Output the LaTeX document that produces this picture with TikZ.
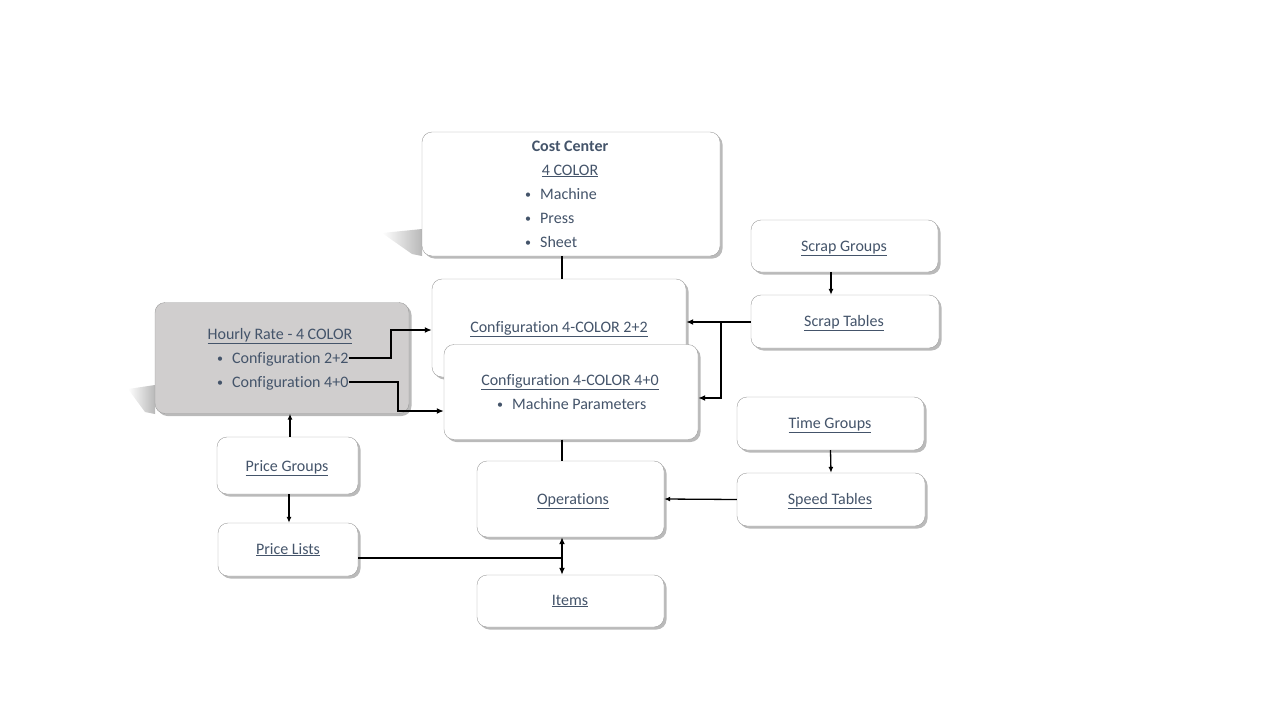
\documentclass[tikz,border=0pt]{standalone}
\usepackage{fontspec}
\setmainfont[Ligatures=NoCommon]{Carlito}
\usetikzlibrary{arrows.meta,shadows}

\definecolor{txtcol}{HTML}{44546A}
\definecolor{edgecol}{HTML}{9C9C9C}
\definecolor{ratefill}{HTML}{D0CECE}

\newcommand{\itembul}{\makebox[15pt][l]{\raisebox{0.5pt}{\fontsize{12}{14}\selectfont\textbullet}}}

\tikzset{
    box/.style={draw=edgecol, fill=white, rounded corners=10pt, inner sep=0pt,
        drop shadow={shadow xshift=2.5pt, shadow yshift=-2.5pt, opacity=0.45, fill=black!60}},
    lbl/.style={text=txtcol, inner sep=0pt, text height=10pt, text depth=0pt,
        font=\fontsize{16}{19}\selectfont},
    link/.style={line width=2.2pt, -{Latex[length=7pt,width=6pt]}},
    thinlink/.style={line width=1.3pt, -{Latex[length=6pt,width=5pt]}},
    joint/.style={line width=2.2pt}
}

\begin{document}
\begin{tikzpicture}[x=1pt, y=-1pt]
    \useasboundingbox (0,0) rectangle (1280,720);

    % Shadows cast to the left
    \shade[left color=white, right color=black!28] (382,233) -- (422,229) -- (422,256) -- (412,254) -- cycle;
    \shade[left color=white, right color=black!28] (128,389) -- (155,385) -- (155,414) -- (145,412) -- cycle;

    % Cost center
    \node[box, minimum width=298pt, minimum height=124pt] (cc) at (571,194) {};
    \node[lbl, font=\fontsize{16}{19}\selectfont\bfseries] (cctitle) at (570,146) {Cost Center};
    \node[lbl] (cccolor) at (570,170) {\underline{4 COLOR}};
    \node[lbl, anchor=west] (ccmach) at (525,194) {\itembul Machine};
    \node[lbl, anchor=west] (ccpress) at (525,218) {\itembul Press};
    \node[lbl, anchor=west] (ccsheet) at (525,242) {\itembul Sheet};

    % Configurations
    \node[box, minimum width=254pt, minimum height=98pt] (cfgA) at (559,328) {};
    \node[lbl] (cfgAtext) at (559,327) {\underline{Configuration 4-COLOR 2+2}};
    \node[box, minimum width=254pt, minimum height=95pt] (cfgB) at (571,392) {};
    \node[lbl] (cfgBtext) at (570,380) {\underline{Configuration 4-COLOR 4+0}};
    \node[lbl, anchor=west] (cfgBparam) at (497,404) {\itembul Machine Parameters};

    % Hourly rate
    \node[box, fill=ratefill, minimum width=254pt, minimum height=111pt] (rate) at (282,358) {};
    \node[lbl] (ratetitle) at (280,334) {\underline{Hourly Rate - 4 COLOR}};
    \node[lbl, anchor=west] (rate22) at (217,358) {\itembul Configuration 2+2};
    \node[lbl, anchor=west] (rate40) at (217,382) {\itembul Configuration 4+0};

    % Price
    \node[box, minimum width=141pt, minimum height=57pt] (pgroups) at (287.5,465.5) {};
    \node[lbl] (pgroupstext) at (287,466) {\underline{Price Groups}};
    \node[box, minimum width=140pt, minimum height=53pt] (plists) at (288,549.5) {};
    \node[lbl] (pliststext) at (288,549) {\underline{Price Lists}};

    % Scrap and speed
    \node[box, minimum width=187pt, minimum height=52pt] (sgroups) at (844.5,246) {};
    \node[lbl] (sgroupstext) at (844,246) {\underline{Scrap Groups}};
    \node[box, minimum width=188pt, minimum height=53pt] (stables) at (845,321.5) {};
    \node[lbl] (stablestext) at (844,321) {\underline{Scrap Tables}};
    \node[box, minimum width=187pt, minimum height=53pt] (tgroups) at (830.5,423.5) {};
    \node[lbl] (tgroupstext) at (830,423) {\underline{Time Groups}};
    \node[box, minimum width=188pt, minimum height=53pt] (speed) at (831,499.5) {};
    \node[lbl] (speedtext) at (830,499) {\underline{Speed Tables}};

    % Operations and items
    \node[box, minimum width=187pt, minimum height=76pt] (ops) at (570.5,499) {};
    \node[lbl] (opstext) at (573,499) {\underline{Operations}};
    \node[box, minimum width=187pt, minimum height=52pt] (items) at (570.5,601) {};
    \node[lbl] (itemstext) at (570,600) {\underline{Items}};

    % Connectors
    \coordinate (trunk) at (562,0);
    \draw[joint] (cc.south -| trunk) -- (cfgA.north -| trunk);
    \draw[joint] (cfgB.south -| trunk) -- (ops.north -| trunk);
    \draw[link] (rate22.east) -| (391,330) -- (cfgA.west |- 0,330);
    \draw[link] (rate40.east) -| (398,411) -- (cfgB.west |- 0,411);

    \coordinate (sjoin) at (721,322);
    \draw[link] (stables.west |- sjoin) -- (cfgA.east |- sjoin);
    \draw[link] (sjoin) |- (cfgB.east |- 0,398);
    \draw[thinlink] (sgroups.south -| 831,0) -- (stables.north -| 831,0);
    \draw[thinlink] (tgroups.south) -- (speed.north);
    \draw[thinlink] (speed.west) -- (ops.east);

    \draw[thinlink] (pgroups.north -| 290,0) -- (rate.south -| 290,0);
    \draw[thinlink] (pgroups.south -| 289,0) -- (plists.north -| 289,0);
    \draw[joint] (plists.east |- 0,558) -- (trunk |- 0,558);
    \draw[link, {Latex[length=7pt,width=6pt]}-{Latex[length=7pt,width=6pt]}] (ops.south -| trunk) -- (items.north -| trunk);

\end{tikzpicture}
\end{document}
